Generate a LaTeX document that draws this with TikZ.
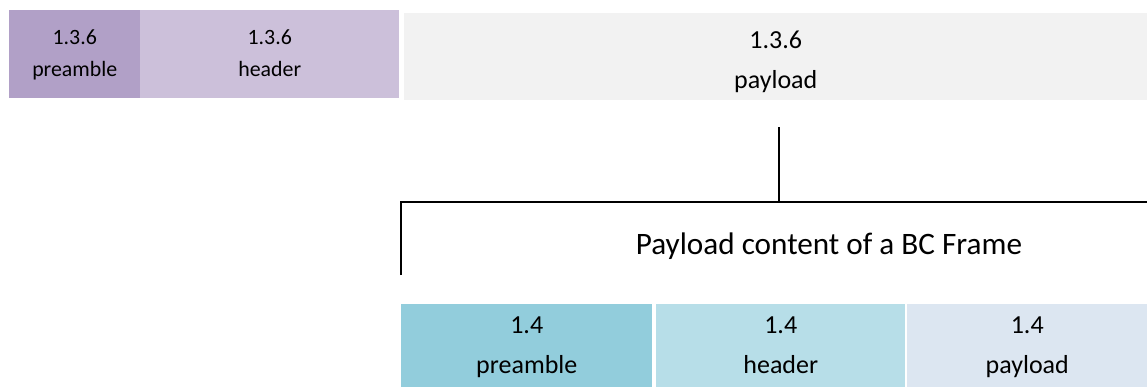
\documentclass[tikz,border=0pt]{standalone}
\usepackage{fontspec}
\setmainfont{Carlito}
\definecolor{oldpre}{HTML}{B1A0C7}
\definecolor{oldhdr}{HTML}{CCC0DA}
\definecolor{oldpay}{HTML}{F2F2F2}
\definecolor{newpre}{HTML}{92CDDC}
\definecolor{newhdr}{HTML}{B7DEE8}
\definecolor{newpay}{HTML}{DCE6F1}
\tikzset{
  field/.style={rectangle, inner sep=0pt, anchor=north west, align=center},
  smalltext/.style={font=\fontsize{16.4}{23.5}\selectfont},
  bigtext/.style={font=\fontsize{19.5}{29.5}\selectfont},
  bracket/.style={draw=black, line width=1.1pt},
}
\begin{document}
\begin{tikzpicture}[x=0.75pt, y=-0.75pt]
  \useasboundingbox (0,0) rectangle (1147,387);
  % BC frame 1.3.6
  \node[field, smalltext, fill=oldpre, minimum width=131*0.75pt, minimum height=88*0.75pt]
    (pre136) at (9,10) {\strut 1.3.6\\\strut preamble};
  \node[field, smalltext, fill=oldhdr, minimum width=259*0.75pt, minimum height=88*0.75pt]
    (hdr136) at (140,10) {\strut 1.3.6\\\strut header};
  % taller first-line strut drops the payload text a little lower in its box
  \node[field, bigtext, fill=oldpay, minimum width=743*0.75pt, minimum height=84*0.75pt]
    (pay136) at (404,13) {\rule{0pt}{26.6pt}1.3.6\\\strut payload};
  % bracket spanning the payload
  \coordinate (tap) at (779,127);
  \coordinate (join) at (779,202);
  \coordinate (brL) at (401,202);
  \coordinate (brR) at (1147,202);
  \coordinate (brEnd) at (401,275);
  \draw[bracket] (tap) -- (join);
  \draw[bracket] (brEnd) -- (brL) -- (brR);
  \node[font=\fontsize{23.4}{28}\selectfont] (caption) at (829,246) {Payload content of a BC Frame};
  % BC frame 1.4
  \node[field, bigtext, fill=newpre, minimum width=251*0.75pt, minimum height=83*0.75pt]
    (pre14) at (401,304) {\strut 1.4\\\strut preamble};
  \node[field, bigtext, fill=newhdr, minimum width=249*0.75pt, minimum height=83*0.75pt]
    (hdr14) at (656,304) {\strut 1.4\\\strut header};
  \node[field, bigtext, fill=newpay, minimum width=240*0.75pt, minimum height=83*0.75pt]
    (pay14) at (907,304) {\strut 1.4\\\strut payload};
\end{tikzpicture}
\end{document}
